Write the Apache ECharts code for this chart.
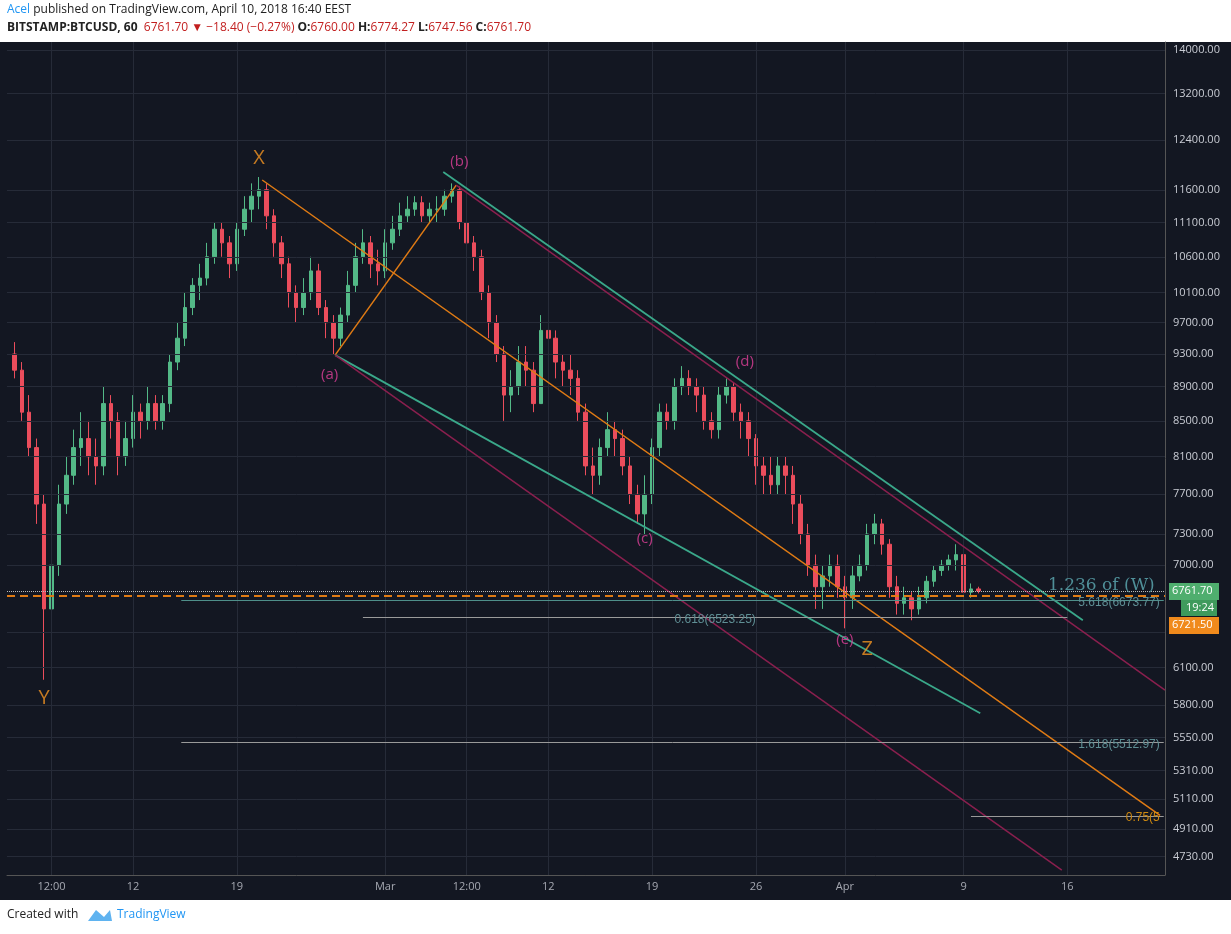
<!DOCTYPE html>
<html><head><meta charset="utf-8">
<script src="https://cdn.jsdelivr.net/npm/echarts@6/dist/echarts.min.js"></script>
<style>html,body{margin:0;padding:0;background:#fff}#c{width:1231px;height:934px}</style>
</head><body><div id="c"></div>
<script>
// 12-hour candles starting 2018-02-04 00:00 UTC
const startTime = Date.UTC(2018,1,4,0);
const firstOpen = 9300;
const closes = [9100,8600,8200,7600,6600,7000,7600,7900,8200,8300,8100,8000,8700,8500,8100,8300,8600,8500,8700,8500,
8700,9200,9500,9900,10200,10300,10600,11000,10800,10500,11000,11300,11500,11600,11200,10800,10500,10100,9900,10100,
10400,9900,9700,9500,9800,10200,10600,10800,10500,10400,10800,11000,11200,11300,11400,11200,11300,11300,11500,11600,
11100,10800,10600,10100,9700,9300,8800,8900,9200,9100,8700,9600,9500,9200,9100,9000,8600,8000,7900,8200,
8400,8300,8000,7700,7500,7700,8200,8600,8500,8900,9000,8900,8800,8500,8400,8800,8900,8600,8500,8300,
8000,7900,7800,8000,7900,7600,7300,7000,6800,6900,7000,6800,6700,6900,7000,7300,7400,7200,6800,6650,
6700,6600,6700,6850,6950,7000,7050,7100,6750,6780,6762];
const lows = [9000,8500,8100,7400,6000,6300,6900,7500,7800,8000,7900,7800,7900,8300,7900,8000,8200,8300,8400,8400,
8400,8600,9100,9400,9800,10000,10200,10500,10600,10300,10400,10900,11100,11300,11000,10600,10300,9900,9700,9800,
10000,9800,9500,9300,9400,9700,10100,10500,10300,10200,10300,10700,10900,11100,11200,11100,11100,11100,11200,11400,
11000,10700,10400,10000,9500,9200,8500,8600,8800,8900,8600,8700,9300,9000,8900,8800,8500,7900,7700,7800,
8100,8100,7900,7600,7400,7300,7600,8100,8400,8400,8800,8800,8600,8400,8300,8300,8700,8500,8300,8100,
7800,7700,7700,7700,7700,7400,7200,6900,6600,6600,6800,6700,6430,6600,6850,6950,7200,7100,6700,6550,
6550,6500,6550,6650,6800,6900,6950,6950,6700,6700,6740];
const highs = [9450,9200,8800,8300,7700,7200,7800,8100,8400,8600,8500,8300,8900,8800,8600,8500,8800,8700,8900,8800,
8800,9300,9700,10100,10300,10500,10800,11100,11100,10900,11100,11500,11700,11800,11700,11300,10900,10600,10200,10300,
10600,10500,10000,9800,9900,10400,10800,11000,10900,10700,11000,11200,11400,11500,11500,11500,11400,11500,11600,11700,
11650,11200,10900,10700,10200,9800,9400,9100,9400,9400,9200,9800,9900,9600,9300,9300,9100,8700,8200,8300,
8600,8500,8400,8100,7800,7900,8300,8700,8700,9000,9150,9100,9000,8900,8600,8900,9000,8950,8700,8600,
8350,8100,8100,8100,8100,8000,7700,7400,7100,7000,7100,7100,6900,7000,7100,7400,7500,7450,7250,6900,
6800,6750,6800,6900,7000,7050,7100,7200,7150,6830,6800];
const priceTicks = [14000,13200,12400,11600,11100,10600,10100,9700,9300,8900,8500,8100,7700,7300,7000,6400,6100,5800,5550,5310,5110,4910,4730];
const dateTicks = [[2018,2,6,12,'12:00'],[2018,2,12,0,'12'],[2018,2,19,0,'19'],[2018,3,1,0,'Mar'],[2018,3,6,12,'12:00'],
[2018,3,12,0,'12'],[2018,3,19,0,'19'],[2018,3,26,0,'26'],[2018,4,1,0,'Apr'],[2018,4,9,0,'9'],[2018,4,16,0,'16']];
// trendlines: [start, end] as [y,m,d,h,price]
const orangeLines = [[[2018,2,20,17,11753],[2018,4,22,6,5000]],[[2018,2,25,15,9286],[2018,3,5,19,11673]]];
const tealLines = [[[2018,3,4,22,11880],[2018,4,17,1,6500]],[[2018,2,25,15,9286],[2018,4,10,3,5736]]];
const maroonLines = [[[2018,3,5,19,11673],[2018,4,22,14,5917]],[[2018,2,25,15,9286],[2018,4,15,15,4644]]];
// horizontal levels: [startDate, endDate, price, label]
const levels = [
 [[2018,2,15,6],[2018,4,22,12],6673.77,'5.618(6673.77)','#5f9ea0'],
 [[2018,2,27,12],[2018,4,16,0],6523.25,'0.618(6523.25)','#c8c8c8'],
 [[2018,2,15,6],[2018,4,22,12],5512.97,'1.618(5512.97)','#888'],
 [[2018,4,9,12],[2018,4,22,12],4995,'0.75(5','#c8c8c8']];
const waveLabels = [[[2018,2,20,12],12100,'X','#f39422',20],[[2018,2,6,0],5850,'Y','#f39422',20],
 [[2018,2,25,6],9050,'(a)','#e0409a',15],[[2018,3,6,0],12050,'(b)','#e0409a',15],
 [[2018,3,18,12],7250,'(c)','#e0409a',15],[[2018,3,25,6],9200,'(d)','#e0409a',15],
 [[2018,4,1,0],6330,'(e)','#e0409a',15],[[2018,4,2,12],6250,'Z','#f39422',20]];
const lastPrice = 6761.70, orangePrice = 6721.50;

const T = a => Date.UTC(a[0], a[1]-1, a[2], a[3]||0);
const candles = closes.map((c,i)=>{const o = i? closes[i-1]:firstOpen; return [startTime+i*43200000, o, c, lows[i], highs[i]];});
const xMin = Date.UTC(2018,1,3,12,0), xMax = Date.UTC(2018,3,22,14,0);
const yMin = 4614, yMax = 14151;
const seg = (p, color, w) => [{coord:[T(p[0]),p[0][4]], lineStyle:{color, width:w, type:'solid'}},{coord:[T(p[1]),p[1][4]]}];

const gridLines = [];
priceTicks.forEach(p=>gridLines.push({yAxis:p, label:{show:p!==6400, formatter:p.toFixed(2)}}));
const vLines = dateTicks.map(d=>({xAxis:T(d), label:{show:false}}));

const annoLines = [];
orangeLines.forEach(l=>annoLines.push(seg(l,'#e07b14',1.5)));
tealLines.forEach(l=>annoLines.push(seg(l,'#3aa88a',1.8)));
maroonLines.forEach(l=>annoLines.push(seg(l,'#8a1f4e',1.5)));
levels.forEach(l=>{
  const mid = l[3].startsWith('0.618');
  annoLines.push([{coord:[T(l[0]),l[2]], lineStyle:{color:l[4]==='#5f9ea0'?'#4f8f8a':'#9a9a9a',width:1,type:'solid'},
  label:{show:true, formatter:l[3], position:mid?'middle':'insideEndTop', color:l[3].startsWith('0.75')?'#d08a10':'#5f8f95', fontSize:12,
  distance:mid?[0,-8]:[4,-8]}},{coord:[T(l[1]),l[2]]}]);
});
annoLines.push({yAxis:lastPrice, lineStyle:{color:'#bbb',type:'dotted',width:1}, label:{show:false}});
annoLines.push({yAxis:orangePrice, lineStyle:{color:'#e07b14',type:[8,5],width:2}, label:{show:false}});

const opt = {
 animation:false,
 backgroundColor:'#fff',
 graphic:[
  {type:'rect', shape:{x:0,y:42,width:1231,height:858}, style:{fill:'#131722'}, z:-10},
  {type:'text', left:7, top:4, style:{text:'{b|Acel} published on TradingView.com, April 10, 2018 16:40 EEST', fontSize:12, fill:'#222',
    fontFamily:'Open Sans', rich:{b:{fill:'#2196f3', fontSize:12, fontFamily:'Open Sans'}}}},
  {type:'text', left:7, top:22, style:{text:'BITSTAMP:BTCUSD, 60  {r|6761.70 ▼ −18.40 (−0.27%)} O:{r|6760.00} H:{r|6774.27} L:{r|6747.56} C:{r|6761.70}',
    fontSize:12, fontWeight:'bold', fill:'#222', fontFamily:'Open Sans', rich:{r:{fill:'#c21f1f', fontSize:12, fontFamily:'Open Sans'}}}},
  {type:'text', left:7, top:909, style:{text:'Created with', fontSize:12, fill:'#222', fontFamily:'Open Sans'}},
  {type:'text', left:117, top:909, style:{text:'TradingView', fontSize:12, fill:'#2196f3', fontFamily:'Open Sans'}},
  {type:'polygon', shape:{points:[[88,921],[96,910],[104,917],[110,910],[112,921]]}, style:{fill:'#5fb3f0'}},
  {type:'text', left:1048, top:577, style:{text:'1.236 of (W)', fontSize:17, fill:'#4f8f98', fontFamily:'DejaVu Serif'}, z:50},
  {type:'rect', shape:{x:1169,y:583,width:50,height:17}, style:{fill:'#4fae6e'}, z:50},
  {type:'text', left:1172, top:585, style:{text:'6761.70', fontSize:11, fill:'#fff', fontFamily:'Open Sans'}, z:51},
  {type:'rect', shape:{x:1181,y:600,width:36,height:16}, style:{fill:'#3f9a5c'}, z:50},
  {type:'text', left:1186, top:602, style:{text:'19:24', fontSize:11, fill:'#fff', fontFamily:'Open Sans'}, z:51},
  {type:'rect', shape:{x:1169,y:617,width:50,height:17}, style:{fill:'#f08a1c'}, z:50},
  {type:'text', left:1172, top:619, style:{text:'6721.50', fontSize:11, fill:'#fff', fontFamily:'Open Sans'}, z:51}
 ],
 grid:{left:7, right:66, top:42, bottom:59},
 xAxis:{type:'time', min:xMin, max:xMax, axisLabel:{show:false}, axisTick:{show:false}, splitLine:{show:false},
   axisLine:{show:true, lineStyle:{color:'#555'}}},
 yAxis:{type:'log', logBase:10, min:yMin, max:yMax, position:'right', axisLabel:{show:false}, axisTick:{show:false},
   splitLine:{show:false}, axisLine:{show:true, lineStyle:{color:'#555'}}},
 series:[
  {type:'line', data:[], z:1, silent:true, markLine:{silent:true, symbol:'none', animation:false,
    lineStyle:{color:'#262b38', type:'solid', width:1},
    label:{position:'end', color:'#c9ccd4', fontSize:11, fontFamily:'Open Sans', distance:8},
    data:gridLines.concat(vLines)}},
  {type:'candlestick', data:candles, z:3, barWidth:4,
   encode:{x:0,y:[1,2,3,4]},
   itemStyle:{color:'#53b987', color0:'#eb4d5c', borderColor:'#53b987', borderColor0:'#eb4d5c', borderWidth:1},
   markLine:{silent:true, symbol:'none', animation:false, data:annoLines}},
  {type:'scatter', symbolSize:0, z:5, silent:true,
   data:waveLabels.map(w=>({value:[T(w[0]),w[1]], label:{show:true, formatter:w[2], color:w[3], fontSize:w[4], position:'inside', fontFamily:'Open Sans'}}))},
  {type:'scatter', symbolSize:0, z:5, silent:true,
   data:dateTicks.map(d=>({value:[T(d),yMin], label:{show:true, formatter:d[4], color:'#c9ccd4', fontSize:11, position:'bottom', distance:6, fontFamily:'Open Sans'}}))}
 ]
};
const ch = echarts.init(document.getElementById('c'));
ch.setOption(opt);
</script></body></html>
